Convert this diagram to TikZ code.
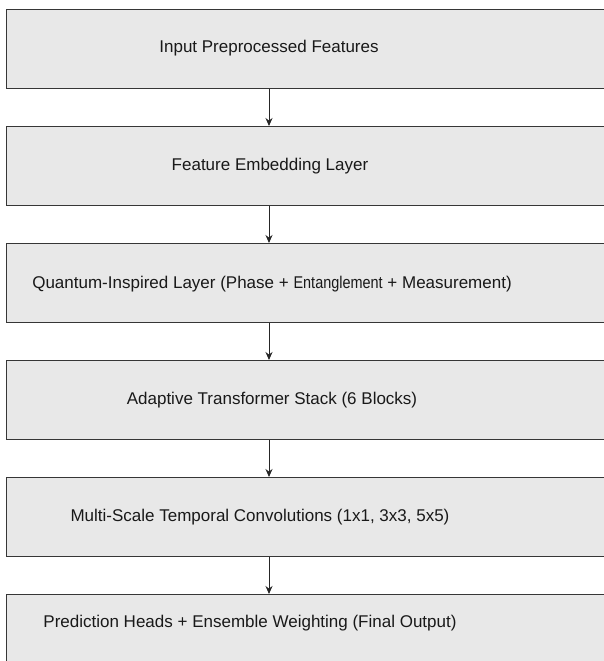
\documentclass[tikz,border=0pt]{standalone}
\usepackage{fontspec}
\setmainfont{Liberation Sans}
\usetikzlibrary{arrows.meta}

\definecolor{boxfill}{HTML}{E8E8E8}
\definecolor{boxline}{HTML}{363636}

\begin{document}
\begin{tikzpicture}[x=1pt,y=-1pt,
    layerbox/.style ={rectangle, draw=boxline, fill=boxfill, line width=1.3pt,
                      minimum width=660pt, minimum height=79pt, inner sep=0pt, anchor=north west},
    layertext/.style ={font=\fontsize{17}{20}\selectfont, text=black!90, inner sep=0pt},
    flow/.style ={draw=black!85, line width=0.9pt, -{Stealth[length=8pt,width=7pt]}}]
   \clip (0,0) rectangle (604,661);
   \fill[white] (0,0) rectangle (604,661);
   % the six stages, top to bottom
   \node[layerbox] (b1) at (6,9)   {};
   \node[layerbox] (b2) at (6,126) {};
   \node[layerbox] (b3) at (6,243) {};
   \node[layerbox] (b4) at (6,360) {};
   \node[layerbox] (b5) at (6,477) {};
   \node[layerbox] (b6) at (6,594) {};
   \node[layertext] (t1) at (269,48)  {Input Preprocessed Features};
   \node[layertext] (t2) at (270,166) {Feature Embedding Layer};
   \node[layertext] (t3) at (272,284) {Quantum-Inspired Layer (Phase + \scalebox{0.85}[1]{Entanglement} + Measurement)};
   \node[layertext] (t4) at (272,400) {Adaptive Transformer Stack (6 Blocks)};
   \node[layertext] (t5) at (260,517) {Multi-Scale Temporal Convolutions (1x1, 3x3, 5x5)};
   \node[layertext] (t6) at (250,623) {Prediction Heads + Ensemble Weighting (Final Output)};
   % arrows between the stages
   \foreach \a/\b in {1/2,2/3,3/4,4/5,5/6}
      \draw[flow] (t1 |- b\a.south) -- (t1 |- b\b.north);
\end{tikzpicture}
\end{document}
